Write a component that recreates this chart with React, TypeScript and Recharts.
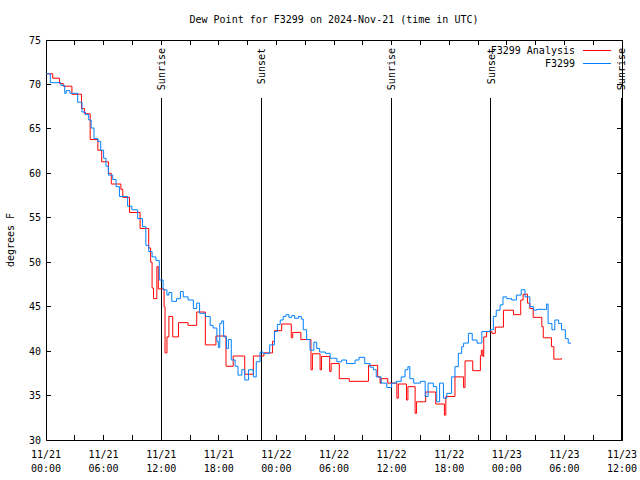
import React from "react";
import { LineChart, Line, XAxis, YAxis, ReferenceLine, ReferenceArea } from "recharts";

// hours since 11/21 00:00 UTC, dew point in F
const analysisHours = [
  0, 0.7, 1.4, 1.8, 2.7, 3.7, 4.0, 4.6, 5.4, 5.8, 6.5, 6.8, 7.8, 8.0, 8.7, 9.8, 10.7, 10.9,
  11.05, 11.2, 11.55, 11.7, 12.3, 12.4, 12.6, 12.8, 13.2, 13.8, 14.8, 15.7, 16.6, 17.7, 18.75,
  19.5, 20.7, 21.6, 22.7, 23.6, 23.8, 24.55, 25.55, 25.7, 26.55, 27.6, 27.75, 28.55, 28.7,
  29.55, 29.7, 30.55, 31.6, 33.6, 34.55, 34.8, 34.9, 35.6, 36.55, 36.7, 37.55, 37.7, 38.45,
  38.6, 39.55, 40.6, 41.5, 41.65, 42.6, 43.5, 43.65, 44.45, 45.25, 45.35, 45.5, 45.6, 45.9,
  46.45, 46.8, 47.65, 48.7, 49.45, 49.7, 50.15, 50.4, 50.75, 51.65, 51.8, 52.65, 52.9, 53.7,
];
const analysisDew = [
  71.2, 70.7, 70.1, 69.8, 68.9, 67.3, 66.7, 63.8, 62.6, 61.3, 60.0, 58.8, 58.2, 57.3, 55.6, 53.8, 51.6, 50.0,
  47.1, 45.9, 49.5, 47.0, 45.0, 39.8, 41.6, 43.9, 41.6, 43.2, 42.9, 44.4, 40.7, 41.7, 38.3,
  39.45, 37.4, 39.45, 39.8, 41.1, 42.3, 43.05, 41.5, 42.1, 41.3, 37.9, 39.7, 37.9, 39.4,
  37.7, 38.6, 36.9, 36.6, 38.4, 37.1, 36.4, 36.9, 36.4, 34.7, 36.3, 34.5, 36.0, 33.0,
  34.3, 35.4, 34.05, 32.8, 34.9, 37.1, 35.9, 38.9, 37.8, 39.5, 40.1, 39.4, 41.6, 42.2,
  42.0, 42.7, 44.6, 44.1, 45.75, 46.4, 45.4, 44.8, 43.8, 42.75, 41.5, 40.5, 39.1, 39.2,
];

const obsHours = [
  0, 0.45, 1.55, 1.95, 2.1, 2.5, 3.3, 3.75, 4.1, 4.45, 4.7, 5.0, 5.4, 5.7, 6.0, 6.25, 6.5, 6.95,
  7.3, 7.65, 8.5, 8.95, 9.55, 10.05, 10.4, 10.7, 11.05, 11.45, 11.8, 12.2, 12.6, 12.8, 13.1,
  13.6, 14.0, 14.3, 14.8, 15.35, 15.7, 16.0, 16.6, 17.1, 17.4, 17.8, 17.95, 18.1, 18.3, 18.5,
  18.8, 19.0, 19.3, 19.7, 20.0, 20.4, 20.7, 21.1, 21.6, 21.9, 22.3, 22.6, 23.3, 23.8, 24.1,
  24.4, 24.7, 25.0, 25.3, 25.6, 25.9, 26.3, 26.6, 26.8, 27.15, 27.5, 27.9, 28.2, 28.5, 29.1,
  29.6, 30.3, 30.8, 31.3, 32.2, 32.6, 33.2, 33.75, 34.1, 34.4, 34.9, 35.5, 36.0, 36.5, 37.0,
  37.4, 37.7, 37.9, 38.3, 39.0, 39.5, 39.8, 40.35, 40.7, 41.0, 41.4, 41.75, 42.25, 42.6,
  42.95, 43.3, 43.5, 44.0, 44.4, 44.9, 45.4, 46.25, 46.6, 46.9, 47.3, 47.6, 48.0, 48.5, 49.0,
  49.5, 49.9, 50.4, 50.8, 51.1, 52.15, 52.3, 52.7, 53.0, 53.4, 53.7, 54.1, 54.4, 54.7,
];
const obsDew = [
  71.2, 70.2, 69.9, 69.0, 69.3, 69.0, 68.0, 66.9, 66.6, 66.0, 65.1, 63.9, 63.6, 62.6, 61.7, 60.8, 59.8, 59.3,
  58.5, 57.4, 56.3, 55.9, 54.9, 54.0, 51.9, 51.2, 50.6, 50.2, 48.0, 46.9, 46.3, 46.6, 45.6,
  45.9, 46.7, 46.1, 45.75, 44.8, 45.4, 44.25, 43.9, 42.9, 42.6, 41.1, 40.4, 43.1, 43.4, 41.6,
  40.3, 41.3, 39.0, 38.3, 37.3, 37.9, 36.75, 37.9, 37.1, 38.8, 39.9, 39.75, 40.7, 42.2, 43.0,
  43.5, 43.9, 44.1, 43.8, 44.0, 43.7, 43.9, 43.6, 42.4, 41.3, 40.1, 41.0, 40.3, 39.9, 39.75,
  39.2, 38.8, 39.0, 38.6, 39.0, 39.3, 38.6, 38.2, 37.9, 37.1, 36.4, 35.9, 36.4, 36.6, 37.1,
  37.9, 38.25, 36.9, 36.4, 36.6, 34.9, 36.4, 36.0, 34.3, 36.4, 34.7, 35.25, 37.1, 38.25,
  39.75, 40.5, 40.9, 42.0, 41.25, 40.9, 42.2, 42.4, 43.9, 44.6, 45.2, 46.1, 45.9, 45.75, 46.3,
  46.9, 46.1, 45.0, 44.6, 44.7, 45.3, 43.1, 42.4, 43.5, 43.1, 42.4, 41.4, 40.9, 40.9,
];

const xTicks = [0, 3, 6, 9, 12, 15, 18, 21, 24, 27, 30, 33, 36, 39, 42, 45, 48, 51, 54, 57, 60];
const xTickDates = ["11/21", "11/21", "11/21", "11/21", "11/22", "11/22", "11/22", "11/22", "11/23", "11/23", "11/23"];
const xTickTimes = ["00:00", "06:00", "12:00", "18:00", "00:00", "06:00", "12:00", "18:00", "00:00", "06:00", "12:00"];
const yTicks = [30, 35, 40, 45, 50, 55, 60, 65, 70, 75];

const sunHours = [11.98, 22.4, 35.94, 46.35, 59.9];
const sunLabels = ["Sunrise", "Sunset", "Sunrise", "Sunset", "Sunrise"];

const seriesNames = ["F3299 Analysis", "F3299"];
const seriesColors = ["#ff0000", "#0080ff"];

const analysisData = analysisHours.map((h, i) => ({ h, v: analysisDew[i] }));
const obsData = obsHours.map((h, i) => ({ h, v: obsDew[i] }));

const FONT = "'DejaVu Sans Mono', monospace";
const PLOT_TOP = 40;
const PLOT_BOTTOM = 440;
const PLOT_LEFT = 46;
const PLOT_RIGHT = 622;
const TICK = 5;

const XTick = (props: any) => {
  const { x, payload } = props;
  const v = payload.value;
  const idx = v / 6;
  const labelled = v % 6 === 0;
  return (
    <g>
      <line x1={x} y1={PLOT_BOTTOM} x2={x} y2={PLOT_BOTTOM - TICK} stroke="#000" shapeRendering="crispEdges" />
      <line x1={x} y1={PLOT_TOP} x2={x} y2={PLOT_TOP + TICK} stroke="#000" shapeRendering="crispEdges" />
      {labelled && (
        <text x={x} y={PLOT_BOTTOM + 18} textAnchor="middle" fontFamily={FONT} fontSize={10} fill="#000">
          <tspan x={x}>{xTickDates[idx]}</tspan>
          <tspan x={x} dy={14}>{xTickTimes[idx]}</tspan>
        </text>
      )}
    </g>
  );
};

const YTick = (props: any) => {
  const { y, payload } = props;
  return (
    <g>
      <line x1={PLOT_LEFT} y1={y} x2={PLOT_LEFT + TICK} y2={y} stroke="#000" shapeRendering="crispEdges" />
      <line x1={PLOT_RIGHT} y1={y} x2={PLOT_RIGHT - TICK} y2={y} stroke="#000" shapeRendering="crispEdges" />
      <text x={PLOT_LEFT - 5} y={y} dy="0.35em" textAnchor="end" fontFamily={FONT} fontSize={10} fill="#000">
        {payload.value}
      </text>
    </g>
  );
};

const SunLabel = (text: string) => (props: any) => {
  const vx = props.viewBox.x + 4;
  const vy = PLOT_TOP + 8;
  return (
    <text
      x={vx}
      y={vy}
      transform={`rotate(-90, ${vx}, ${vy})`}
      textAnchor="end"
      fontFamily={FONT}
      fontSize={10}
      fill="#000"
    >
      {text}
    </text>
  );
};

export default function App() {
  return (
    <div style={{ position: "absolute", left: 0, top: 0, width: 640, height: 480, background: "#fff" }}>
      <div
        style={{
          position: "absolute",
          left: PLOT_LEFT,
          width: PLOT_RIGHT - PLOT_LEFT,
          top: 14,
          textAlign: "center",
          fontFamily: FONT,
          fontSize: 10,
        }}
      >
        Dew Point for F3299 on 2024-Nov-21 (time in UTC)
      </div>
      <LineChart width={640} height={480} margin={{ top: PLOT_TOP, right: 640 - PLOT_RIGHT, bottom: 0, left: 0 }}>
        <XAxis
          dataKey="h"
          type="number"
          domain={[0, 60]}
          ticks={xTicks}
          interval={0}
          height={40}
          axisLine={false}
          tickLine={false}
          tick={<XTick />}
        />
        <YAxis
          type="number"
          domain={[30, 75]}
          ticks={yTicks}
          interval={0}
          width={PLOT_LEFT}
          axisLine={false}
          tickLine={false}
          tick={<YTick />}
          label={() => (
            <text
              x={14}
              y={240}
              transform="rotate(-90, 14, 240)"
              textAnchor="middle"
              fontFamily={FONT}
              fontSize={10}
              fill="#000"
            >
              degrees F
            </text>
          )}
        />
        {sunHours.map((h, i) => (
          <ReferenceLine key={"s" + i} x={h} stroke="none" label={SunLabel(sunLabels[i])} ifOverflow="visible" />
        ))}
        {sunHours.map((h, i) => (
          <ReferenceLine
            key={"l" + i}
            segment={[{ x: h, y: 30 }, { x: h, y: 68.5 }]}
            stroke="#000"
            strokeWidth={1}
            shapeRendering="crispEdges"
            ifOverflow="visible"
          />
        ))}
        <Line
          data={analysisData}
          dataKey="v"
          name={seriesNames[0]}
          type="stepAfter"
          stroke={seriesColors[0]}
          strokeWidth={1}
          dot={false}
          isAnimationActive={false}
        />
        <Line
          data={obsData}
          dataKey="v"
          name={seriesNames[1]}
          type="stepAfter"
          stroke={seriesColors[1]}
          strokeWidth={1}
          dot={false}
          isAnimationActive={false}
        />
        <ReferenceArea x1={0} x2={60} y1={30} y2={75} fill="none" stroke="#000" shapeRendering="crispEdges" />
      </LineChart>
      <div
        style={{
          position: "absolute",
          top: 44,
          right: 29,
          fontFamily: FONT,
          fontSize: 10,
          lineHeight: "13px",
        }}
      >
        {seriesNames.map((name, i) => (
          <div key={name} style={{ display: "flex", alignItems: "center", justifyContent: "flex-end" }}>
            <span>{name}</span>
            <span
              style={{ display: "inline-block", width: 28, height: 1, background: seriesColors[i], marginLeft: 8 }}
            />
          </div>
        ))}
      </div>
    </div>
  );
}
